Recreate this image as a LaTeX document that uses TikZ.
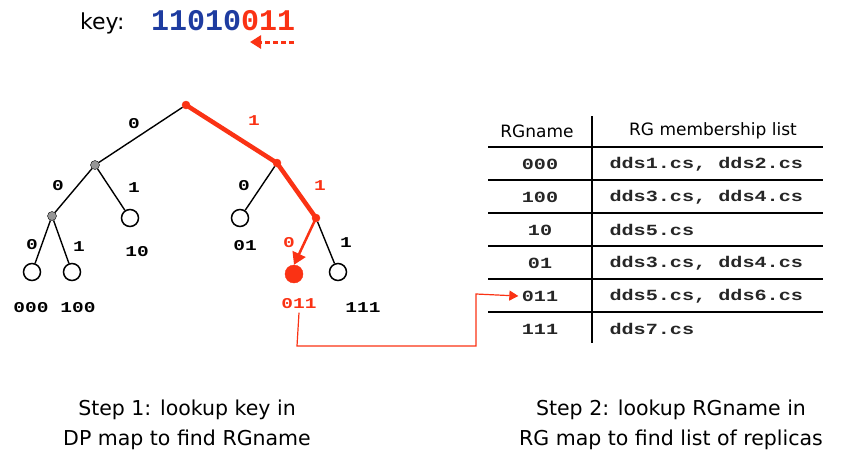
\documentclass[tikz,border=0pt]{standalone}
\usepackage{fontspec}
\setmainfont{DejaVu Sans}
\setmonofont{Liberation Mono}
\newfontfamily\widemono[FakeStretch=1.3]{Liberation Mono}
\usetikzlibrary{arrows.meta}
\definecolor{kred}{RGB}{250,50,20}
\definecolor{kblue}{RGB}{30,60,160}
\definecolor{kgray}{RGB}{150,150,150}
\begin{document}
\begin{tikzpicture}[x=1pt,y=-1pt,
  inner/.style={circle,draw=black,fill=kgray,minimum size=9pt,inner sep=0pt},
  rnode/.style={circle,draw=kred,fill=kred,minimum size=8pt,inner sep=0pt},
  leaf/.style={circle,draw=black,line width=1.5pt,fill=white,minimum size=17pt,inner sep=0pt},
  rleaf/.style={circle,draw=kred,fill=kred,minimum size=18pt,inner sep=0pt},
  edge/.style={line width=1.4pt},
  redge/.style={line width=4.5pt,draw=kred},
  lab/.style={font=\widemono\bfseries\fontsize{15}{15}\selectfont},
  rlab/.style={lab,text=kred},
  txt/.style={font=\fontsize{20.5}{30}\selectfont,align=center},
  cell/.style={font=\widemono\bfseries\fontsize{15.5}{15.5}\selectfont,text=black!85},
  head/.style={font=\fontsize{17}{17}\selectfont},
  hline/.style={line width=1.5pt}]
\useasboundingbox (0,0) rectangle (848,458);
% key
\node[font=\fontsize{22}{22}\selectfont,anchor=base west,inner sep=0pt] (keyl) at (80,29) {key:};
\node[font=\ttfamily\bfseries\fontsize{30}{30}\selectfont,anchor=base west,inner sep=0pt] (key) at (151,30) {\textcolor{kblue}{11010}\textcolor{kred}{011}};
\coordinate (ka) at (294,42);
\coordinate (kb) at (250,42);
\draw[kred,line width=3pt,dash pattern=on 5pt off 3pt,-{Triangle[length=11pt,width=13pt]}] (ka) -- (kb);
% tree
\node[rnode] (r) at (186,105) {};
\node[inner] (a) at (95,165) {};
\node[rnode] (b) at (277,163) {};
\node[inner] (aa) at (52,216) {};
\node[leaf] (ab) at (130,218) {};
\node[leaf] (aaa) at (32,272) {};
\node[leaf] (aab) at (72,272) {};
\node[leaf] (ba) at (240,218) {};
\node[rnode] (bb) at (316,218) {};
\node[rleaf] (bba) at (294,274) {};
\node[leaf] (bbb) at (338,272) {};
\draw[edge] (r) -- (a);
\draw[edge] (a) -- (aa);
\draw[edge] (a) -- (ab);
\draw[edge] (aa) -- (aaa);
\draw[edge] (aa) -- (aab);
\draw[edge] (b) -- (ba);
\draw[edge] (bb) -- (bbb);
\draw[redge] (r.center) -- (b.center) -- (bb.center);
\draw[kred,line width=2.5pt,-{Triangle[length=12pt,width=14pt]}] (bb.center) -- (bba.north);
% edge labels
\node[lab] (l1) at (134,124) {0};
\node[rlab] (l2) at (254,121) {1};
\node[lab] (l3) at (58,186) {0};
\node[lab] (l4) at (134,188) {1};
\node[lab] (l5) at (32,245) {0};
\node[lab] (l6) at (79,247) {1};
\node[lab] (l7) at (244,186) {0};
\node[rlab] (l8) at (320,186) {1};
\node[rlab] (l9) at (289,243) {0};
\node[lab] (l10) at (346,243) {1};
% leaf labels
\node[lab] (n000) at (31,308) {000};
\node[lab] (n100) at (78,308) {100};
\node[lab] (n10) at (137,252) {10};
\node[lab] (n01) at (245,246) {01};
\node[rlab] (n011) at (299,304) {011};
\node[lab] (n111) at (363,308) {111};
% table
\coordinate (vt) at (592,116);
\coordinate (vb) at (592,343);
\draw[line width=1.5pt] (vt) -- (vb);
\foreach \y in {147,180,213,246,279,312} \draw[hline] (488,\y) -- (823,\y);
\node[head] (h1) at (537,131) {RGname};
\node[head] (h2) at (713,131) {RG membership list};
\node[cell] (c1) at (540,164) {000};
\node[cell] (c2) at (540,197) {100};
\node[cell] (c3) at (540,230) {10};
\node[cell] (c4) at (540,263) {01};
\node[cell] (c5) at (540,296) {011};
\node[cell] (c6) at (540,329) {111};
\node[cell,anchor=west] (d1) at (606,164) {dds1.cs, dds2.cs};
\node[cell,anchor=west] (d2) at (606,197) {dds3.cs, dds4.cs};
\node[cell,anchor=west] (d3) at (606,230) {dds5.cs};
\node[cell,anchor=west] (d4) at (606,263) {dds3.cs, dds4.cs};
\node[cell,anchor=west] (d5) at (606,296) {dds5.cs, dds6.cs};
\node[cell,anchor=west] (d6) at (606,329) {dds7.cs};
% connector
\coordinate (p1) at (297,346);
\coordinate (p2) at (476,346);
\coordinate (p3) at (476,294);
\draw[kred,line width=1.2pt,-{Triangle[length=9pt,width=10pt]}] (n011.south) -- (p1) -- (p2) -- (p3) -- (c5.west);
% captions
\node[txt] (s1) at (187,425) {Step 1: lookup key in\\DP map to find RGname};
\node[txt] (s2) at (671,425) {Step 2: lookup RGname in\\RG map to find list of replicas};
\end{tikzpicture}
\end{document}
